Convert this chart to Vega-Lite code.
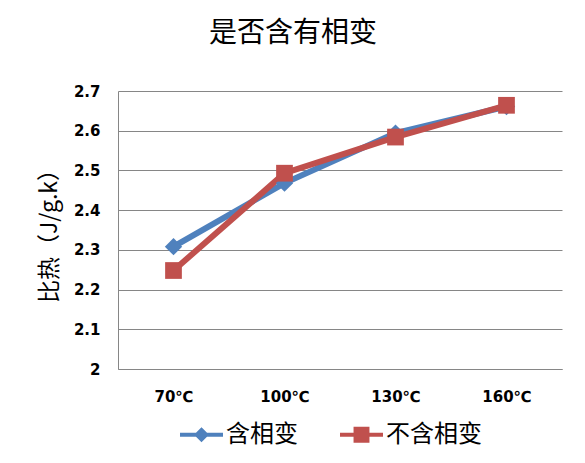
{
  "$schema": "https://vega.github.io/schema/vega-lite/v6.json",
  "width": 444,
  "height": 278,
  "autosize": {"type": "none"},
  "padding": {"left": 118, "top": 91, "right": 23, "bottom": 94},
  "background": "white",
  "config": {"view": {"stroke": null}},
  "title": {"text": "是否含有相变", "fontSize": 28, "font": "Noto Sans CJK SC", "fontWeight": "normal", "color": "black", "anchor": "middle", "dx": -47, "offset": 36},
  "data": {"values": [
    {"series": "含相变", "temp": "70℃", "value": 2.308},
    {"series": "含相变", "temp": "100℃", "value": 2.468},
    {"series": "含相变", "temp": "130℃", "value": 2.594},
    {"series": "含相变", "temp": "160℃", "value": 2.661},
    {"series": "不含相变", "temp": "70℃", "value": 2.248},
    {"series": "不含相变", "temp": "100℃", "value": 2.493},
    {"series": "不含相变", "temp": "130℃", "value": 2.584},
    {"series": "不含相变", "temp": "160℃", "value": 2.664}
  ]},
  "encoding": {
    "x": {"field": "temp", "type": "ordinal", "sort": ["70℃", "100℃", "130℃", "160℃"],
      "scale": {"type": "point", "padding": 0.5},
      "axis": {"title": null, "labelAngle": 0, "domainColor": "#868686", "domainWidth": 1, "ticks": false, "grid": false, "labelFont": "DejaVu Sans", "labelFontWeight": "bold", "labelFontSize": 15, "labelColor": "black", "labelPadding": 20}},
    "y": {"field": "value", "type": "quantitative", "scale": {"domain": [2, 2.7], "nice": false, "zero": false},
      "axis": {"title": "比热（J/g.k）", "titleFont": "Noto Sans CJK SC", "titleFontSize": 23, "titleFontWeight": "normal", "titleColor": "black", "titlePadding": 12,
        "values": [2, 2.1, 2.2, 2.3, 2.4, 2.5, 2.6, 2.7], "format": ".1~f", "grid": true, "gridColor": "#868686", "gridWidth": 1, "domainColor": "#868686", "ticks": false,
        "labelFont": "DejaVu Sans", "labelFontWeight": "bold", "labelFontSize": 15, "labelColor": "black", "labelPadding": 18}},
    "color": {"field": "series", "type": "nominal",
      "scale": {"domain": ["含相变", "不含相变"], "range": ["#4F81BD", "#C0504D"]},
      "legend": {"title": null, "orient": "none", "legendX": 62, "legendY": 322, "direction": "horizontal", "symbolSize": 1849, "labelFontSize": 24, "labelFont": "Noto Sans CJK SC", "labelColor": "black", "columnPadding": 42, "labelOffset": 3,
        "encode": {"symbols": {"update": {
          "shape": {"signal": "datum.value === '含相变' ? 'M-1,-0.09H1V0.09H-1Z M0,-0.35L0.35,0L0,0.35L-0.35,0Z' : 'M-1,-0.09H1V0.09H-1Z M-0.37,-0.37H0.37V0.37H-0.37Z'"},
          "fill": {"scale": "color", "field": "value"},
          "fillOpacity": {"value": 1},
          "strokeWidth": {"value": 0}
        }}}}
    }
  },
  "layer": [
    {"mark": {"type": "line", "strokeWidth": 6}},
    {"transform": [{"filter": "datum.series === '含相变'"}],
      "mark": {"type": "point", "shape": "diamond", "filled": true, "opacity": 1, "size": 300}},
    {"transform": [{"filter": "datum.series === '不含相变'"}],
      "mark": {"type": "point", "shape": "square", "filled": true, "opacity": 1, "size": 280}}
  ]
}
